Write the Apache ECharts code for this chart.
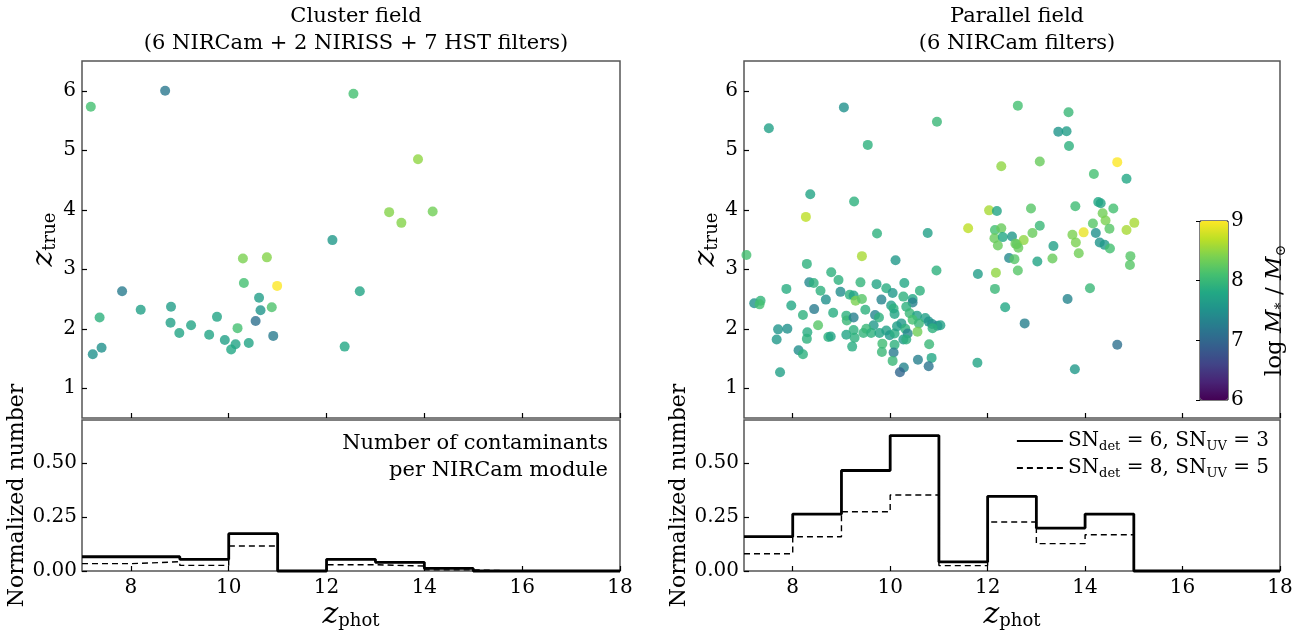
<!DOCTYPE html>
<html>
<head>
<meta charset="utf-8">
<script src="https://cdn.jsdelivr.net/npm/echarts@6/dist/echarts.min.js"></script>
<style>
  html, body { margin: 0; padding: 0; background: #fff; }
  #chart { width: 1307px; height: 631px; }
</style>
</head>
<body>
<div id="chart"></div>
<script>
// cluster field: z_phot, z_true, log stellar mass
var clusterZphot = [7.18, 8.70, 12.55, 12.12, 10.29, 10.78, 10.31, 10.99, 7.82, 10.62, 8.82, 8.20, 10.65, 10.88, 7.36, 9.76, 8.81, 9.23, 10.18, 10.55, 8.99, 9.60, 10.91, 9.92, 10.14, 10.41, 10.05, 7.40, 7.22, 12.37, 12.68, 13.87, 13.28, 13.53, 14.17];
var clusterZtrue = [5.73, 6.00, 5.95, 3.49, 3.18, 3.20, 2.77, 2.72, 2.63, 2.52, 2.37, 2.32, 2.31, 2.36, 2.19, 2.20, 2.10, 2.06, 2.01, 2.13, 1.93, 1.90, 1.88, 1.81, 1.74, 1.76, 1.65, 1.68, 1.57, 1.70, 2.63, 4.85, 3.96, 3.78, 3.97];
var clusterMass = [8.1, 7.2, 8.1, 7.6, 8.4, 8.45, 8.1, 9.0, 7.25, 7.65, 7.65, 7.7, 7.55, 8.15, 7.9, 7.75, 7.7, 7.75, 8.1, 7.1, 7.75, 7.75, 7.25, 7.7, 7.75, 7.75, 7.8, 7.5, 7.5, 7.8, 7.75, 8.5, 8.45, 8.45, 8.35];

// parallel field
var parallelZphot = [9.05, 7.51, 10.96, 9.54, 12.62, 12.28, 8.36, 9.26, 8.27, 12.03, 12.19, 11.60, 9.73, 10.77, 12.15, 12.28, 12.14, 12.31, 12.21, 12.50, 12.60, 12.44, 12.55, 12.62, 12.17, 12.15, 12.36, 11.80, 11.79, 9.42, 10.11, 10.95, 7.05, 8.29,
  8.79, 8.94, 9.39, 9.72, 10.29, 8.34, 8.43, 7.87, 8.57, 8.98, 9.92, 10.05, 10.61, 9.17, 9.25, 9.29, 9.42, 8.68, 9.82, 10.27, 10.46, 10.46, 7.21, 7.34, 7.32, 7.97, 8.44, 8.21, 8.83, 9.49, 10.02, 10.07, 10.09, 10.33, 10.40,
  8.52, 9.10, 9.11, 9.25, 9.69, 9.77, 9.66, 10.55, 10.72, 10.46, 10.59, 10.79, 10.86, 10.97, 11.03, 10.87, 7.70, 7.89, 7.67, 8.30, 8.29, 8.73, 8.78, 9.10, 9.25, 9.27, 9.45, 9.51, 9.61, 9.78, 9.92, 9.99, 10.09, 10.14, 10.23,
  10.31, 10.36, 10.27, 10.33, 10.56, 9.22, 9.84, 9.83, 10.09, 10.07, 10.05, 10.80, 8.12, 8.21, 10.57, 10.85, 10.79, 10.28, 10.20, 7.74,
  13.66, 13.45, 13.62, 13.67, 13.07, 14.66, 14.18, 14.85, 12.89, 13.80, 14.27, 14.32, 14.58, 14.36, 14.42, 14.16, 14.50, 15.01, 14.85, 13.07, 12.92, 12.74, 12.57, 12.63, 13.74, 13.97, 14.22, 13.81, 14.30, 14.40, 14.51, 13.35, 13.87, 14.93, 14.92, 13.33, 13.02, 14.10, 13.64, 12.76, 14.66, 13.79];
var parallelZtrue = [5.72, 5.37, 5.48, 5.09, 5.75, 4.73, 4.26, 4.14, 3.88, 3.99, 3.98, 3.69, 3.60, 3.61, 3.66, 3.69, 3.52, 3.54, 3.40, 3.55, 3.42, 3.19, 3.17, 2.98, 2.94, 2.67, 2.36, 2.92, 1.43, 3.22, 3.15, 2.98, 3.24, 3.09,
  2.95, 2.82, 2.78, 2.75, 2.77, 2.78, 2.77, 2.67, 2.64, 2.62, 2.68, 2.60, 2.64, 2.57, 2.56, 2.47, 2.50, 2.49, 2.49, 2.54, 2.50, 2.44, 2.43, 2.47, 2.41, 2.39, 2.33, 2.23, 2.27, 2.32, 2.39, 2.34, 2.25, 2.37, 2.26,
  2.06, 2.22, 2.14, 2.19, 2.23, 2.19, 2.06, 2.22, 2.18, 2.15, 2.09, 2.12, 2.08, 2.05, 2.06, 2.01, 1.99, 2.00, 1.82, 1.94, 1.83, 1.86, 1.87, 1.90, 1.98, 1.85, 1.93, 2.00, 1.93, 1.93, 1.97, 1.89, 1.92, 2.04, 2.09,
  2.00, 1.92, 1.82, 1.82, 1.95, 1.70, 1.75, 1.61, 1.73, 1.60, 1.46, 1.74, 1.64, 1.57, 1.48, 1.51, 1.37, 1.35, 1.27, 1.27,
  5.64, 5.31, 5.32, 5.07, 4.81, 4.80, 4.60, 4.52, 4.02, 4.06, 4.13, 4.11, 4.02, 3.94, 3.82, 3.77, 3.68, 3.78, 3.66, 3.73, 3.61, 3.49, 3.43, 3.36, 3.58, 3.62, 3.61, 3.45, 3.45, 3.41, 3.35, 3.39, 3.27, 3.22, 3.07, 3.18, 3.13, 2.68, 2.50, 2.09, 1.73, 1.32];
var parallelMass = [7.5, 7.7, 8.0, 7.9, 8.1, 8.5, 7.75, 7.9, 8.7, 8.6, 7.75, 8.7, 7.9, 7.7, 8.1, 8.3, 8.3, 7.8, 8.3, 7.6, 8.2, 7.4, 8.2, 8.2, 8.5, 8.0, 7.8, 7.65, 7.75, 8.6, 7.6, 7.9, 8.1, 7.9,
  7.9, 7.9, 7.95, 7.75, 7.8, 7.4, 7.9, 7.85, 7.9, 7.45, 7.85, 7.6, 7.9, 7.9, 7.75, 8.4, 8.2, 7.5, 7.35, 7.9, 7.8, 7.3, 7.5, 7.95, 8.1, 7.8, 7.25, 7.9, 7.85, 7.9, 7.7, 7.9, 7.75, 7.9, 8.0,
  8.2, 7.9, 8.0, 7.3, 7.35, 7.9, 7.6, 7.7, 7.7, 8.1, 8.0, 7.55, 7.5, 7.4, 7.7, 7.9, 7.55, 7.5, 7.6, 7.85, 7.9, 7.9, 7.75, 7.75, 7.9, 7.9, 7.95, 8.0, 7.9, 7.75, 7.7, 7.6, 7.85, 7.7, 7.6,
  7.9, 7.35, 7.6, 7.9, 8.35, 7.85, 8.05, 8.0, 7.9, 7.25, 8.0, 8.0, 7.45, 7.9, 7.3, 7.8, 7.15, 7.35, 7.0, 7.7,
  8.0, 7.55, 7.65, 7.9, 8.3, 9.0, 8.1, 7.8, 8.2, 8.05, 7.8, 7.75, 8.1, 8.35, 8.4, 8.2, 8.2, 8.6, 8.6, 8.0, 8.3, 8.5, 8.3, 8.3, 8.4, 8.9, 7.5, 8.4, 7.55, 7.6, 8.1, 7.7, 8.35, 8.2, 8.2, 8.3, 7.75, 8.0, 7.35, 7.3, 7.1, 7.6];

// histograms: bin edges and normalized counts per bin
var binEdges = [7, 8, 9, 10, 11, 12, 13, 14, 15, 16, 17, 18];
var clusterSolid = [0.066, 0.066, 0.054, 0.173, 0, 0.054, 0.040, 0.012, 0, 0, 0];
var clusterDashed = [0.034, 0.043, 0.026, 0.116, 0, 0.029, 0.023, 0.005, 0, 0, 0];
var parallelSolid = [0.159, 0.264, 0.466, 0.628, 0.042, 0.346, 0.199, 0.264, 0, 0, 0];
var parallelDashed = [0.080, 0.159, 0.275, 0.352, 0.025, 0.227, 0.127, 0.168, 0, 0, 0];

// tick labels
var xTicks = [8, 10, 12, 14, 16, 18];
var zTrueTicks = [1, 2, 3, 4, 5, 6];
var normTicks = [0, 0.25, 0.5];

var viridis = ['#440154', '#482475', '#414487', '#355f8d', '#2a788e', '#21918c', '#22a884', '#44bf70', '#7ad151', '#bddf26', '#fde725'];

var FONT = 'DejaVu Serif';

function points(xs, ys, ms) {
  return xs.map(function (x, i) { return [x, ys[i], ms[i]]; });
}
function steps(vals) {
  var d = vals.map(function (v, i) { return [binEdges[i], v]; });
  d.push([binEdges[binEdges.length - 1], vals[vals.length - 1]]);
  return d;
}

var nameRich = {
  z: { fontFamily: FONT, fontStyle: 'italic', fontSize: 30, lineHeight: 30, color: '#000' },
  s: { fontFamily: FONT, fontSize: 18, lineHeight: 15, verticalAlign: 'bottom', color: '#000' }
};

function xAxisTop(grid) {
  return {
    type: 'value', gridIndex: grid, min: 7, max: 18,
    axisLine: { show: false }, splitLine: { show: false },
    axisTick: { inside: true, length: 5, customValues: xTicks, lineStyle: { color: '#000', width: 1.2 } },
    axisLabel: { show: false }
  };
}
function xAxisBottom(grid) {
  return {
    type: 'value', gridIndex: grid, min: 7, max: 18,
    axisLine: { show: false }, splitLine: { show: false },
    axisTick: { inside: true, length: 5, customValues: xTicks, lineStyle: { color: '#000', width: 1.2 } },
    axisLabel: { customValues: xTicks, fontFamily: FONT, fontSize: 20, color: '#000', margin: 7 },
    name: '{z|z}{s|phot}', nameLocation: 'middle', nameGap: 29,
    nameTextStyle: { rich: nameRich }
  };
}
function yAxisTop(grid) {
  return {
    type: 'value', gridIndex: grid, min: 0.5, max: 6.5,
    axisLine: { show: false }, splitLine: { show: false },
    axisTick: { inside: true, length: 5, customValues: zTrueTicks, lineStyle: { color: '#000', width: 1.2 } },
    axisLabel: { customValues: zTrueTicks, fontFamily: FONT, fontSize: 20, color: '#000', margin: 6 },
    name: '{z|z}{s|true}', nameLocation: 'middle', nameGap: 22, nameRotate: 90,
    nameTextStyle: { rich: nameRich }
  };
}
function yAxisBottom(grid) {
  return {
    type: 'value', gridIndex: grid, min: 0, max: 0.7,
    axisLine: { show: false }, splitLine: { show: false },
    axisTick: { inside: true, length: 5, customValues: normTicks, lineStyle: { color: '#000', width: 1.2 } },
    axisLabel: { customValues: normTicks, fontFamily: FONT, fontSize: 20, color: '#000', margin: 5,
      formatter: function (v) { return v.toFixed(2); } },
    name: 'Normalized number', nameLocation: 'middle', nameGap: 42, nameRotate: 90,
    nameTextStyle: { fontFamily: FONT, fontSize: 22, color: '#000' }
  };
}

var frame = { show: true, borderColor: '#555', borderWidth: 1.5, backgroundColor: 'transparent' };

var legendNames = {
  'solid': '{n|SN}{s|det}{n| = 6, SN}{s|UV}{n| = 3}',
  'dashed': '{n|SN}{s|det}{n| = 8, SN}{s|UV}{n| = 5}'
};

var myChart = echarts.init(document.getElementById('chart'));

var option = {
  animation: false,
  backgroundColor: '#fff',
  title: [
    { text: 'Cluster field', subtext: '(6 NIRCam + 2 NIRISS + 7 HST filters)', left: 351, top: 1, textAlign: 'center', itemGap: 6,
      textStyle: { fontFamily: FONT, fontSize: 21, fontWeight: 'normal', color: '#000' },
      subtextStyle: { fontFamily: FONT, fontSize: 21, color: '#000' } },
    { text: 'Parallel field', subtext: '(6 NIRCam filters)', left: 1012, top: 1, textAlign: 'center', itemGap: 6,
      textStyle: { fontFamily: FONT, fontSize: 21, fontWeight: 'normal', color: '#000' },
      subtextStyle: { fontFamily: FONT, fontSize: 21, color: '#000' } }
  ],
  grid: [
    Object.assign({ left: 82, top: 61, width: 538, height: 357 }, frame),
    Object.assign({ left: 82, top: 420, width: 538, height: 151 }, frame),
    Object.assign({ left: 744, top: 61, width: 536, height: 357 }, frame),
    Object.assign({ left: 744, top: 420, width: 536, height: 151 }, frame),
    { left: 1200, top: 221, width: 28, height: 179, show: true, borderColor: '#000', borderWidth: 1, backgroundColor: 'transparent' }
  ],
  xAxis: [
    xAxisTop(0), xAxisBottom(1), xAxisTop(2), xAxisBottom(3),
    { type: 'value', gridIndex: 4, min: 0, max: 1, show: false }
  ],
  yAxis: [
    yAxisTop(0), yAxisBottom(1), yAxisTop(2), yAxisBottom(3),
    { type: 'value', gridIndex: 4, min: 6, max: 9, interval: 1, position: 'right',
      axisLine: { show: false }, splitLine: { show: false },
      axisTick: { inside: true, length: 4, lineStyle: { color: '#000' } },
      axisLabel: { fontFamily: FONT, fontSize: 20, color: '#000', margin: 3 },
      name: '{t|log }{i|M}{s|*}{t| / }{i|M}{s|⊙}', nameLocation: 'middle', nameRotate: 90, nameGap: 34,
      nameTextStyle: { rich: {
        t: { fontFamily: FONT, fontSize: 23, lineHeight: 26, color: '#000' },
        i: { fontFamily: FONT, fontStyle: 'italic', fontSize: 23, lineHeight: 26, color: '#000' },
        s: { fontFamily: FONT, fontSize: 14, lineHeight: 14, verticalAlign: 'bottom', color: '#000' }
      } } }
  ],
  visualMap: {
    type: 'continuous', seriesIndex: [0, 1], dimension: 2, min: 6, max: 9,
    inRange: { color: viridis },
    show: true, calculable: false, orient: 'vertical',
    left: 1200, top: 221, itemWidth: 28, itemHeight: 179, padding: 0, text: null
  },
  legend: {
    data: ['solid', 'dashed'], orient: 'vertical', right: 38, top: 431,
    itemWidth: 46, itemHeight: 14, itemGap: 5, padding: 0,
    itemStyle: { opacity: 0 },
    formatter: function (name) { return legendNames[name]; },
    textStyle: { rich: {
      n: { fontFamily: FONT, fontSize: 20, lineHeight: 24, color: '#000' },
      s: { fontFamily: FONT, fontSize: 13, lineHeight: 13, verticalAlign: 'bottom', color: '#000' }
    } }
  },
  graphic: [
    { type: 'text', right: 699, top: 433, style: { text: 'Number of contaminants', fontFamily: FONT, fontSize: 21, fill: '#000', align: 'right' } },
    { type: 'text', right: 699, top: 460, style: { text: 'per NIRCam module', fontFamily: FONT, fontSize: 21, fill: '#000', align: 'right' } }
  ],
  series: [
    { type: 'scatter', name: 'cluster', xAxisIndex: 0, yAxisIndex: 0, symbolSize: 10,
      data: points(clusterZphot, clusterZtrue, clusterMass) },
    { type: 'scatter', name: 'parallel', xAxisIndex: 2, yAxisIndex: 2, symbolSize: 10,
      data: points(parallelZphot, parallelZtrue, parallelMass) },
    { type: 'line', name: 'cluster solid', xAxisIndex: 1, yAxisIndex: 1, step: 'end', symbol: 'none', clip: false,
      lineStyle: { color: '#000', width: 2.8 }, data: steps(clusterSolid) },
    { type: 'line', name: 'cluster dashed', xAxisIndex: 1, yAxisIndex: 1, step: 'end', symbol: 'none', clip: false,
      lineStyle: { color: '#000', width: 1.4, type: [6, 4] }, data: steps(clusterDashed) },
    { type: 'line', name: 'solid', xAxisIndex: 3, yAxisIndex: 3, step: 'end', symbol: 'none', clip: false,
      itemStyle: { color: '#000' }, lineStyle: { color: '#000', width: 2.8 }, data: steps(parallelSolid) },
    { type: 'line', name: 'dashed', xAxisIndex: 3, yAxisIndex: 3, step: 'end', symbol: 'none', clip: false,
      itemStyle: { color: '#000' }, lineStyle: { color: '#000', width: 1.4, type: [6, 4] }, data: steps(parallelDashed) },
    { type: 'scatter', name: 'colorbar', xAxisIndex: 4, yAxisIndex: 4, data: [] }
  ]
};

myChart.setOption(option);
</script>
</body>
</html>
